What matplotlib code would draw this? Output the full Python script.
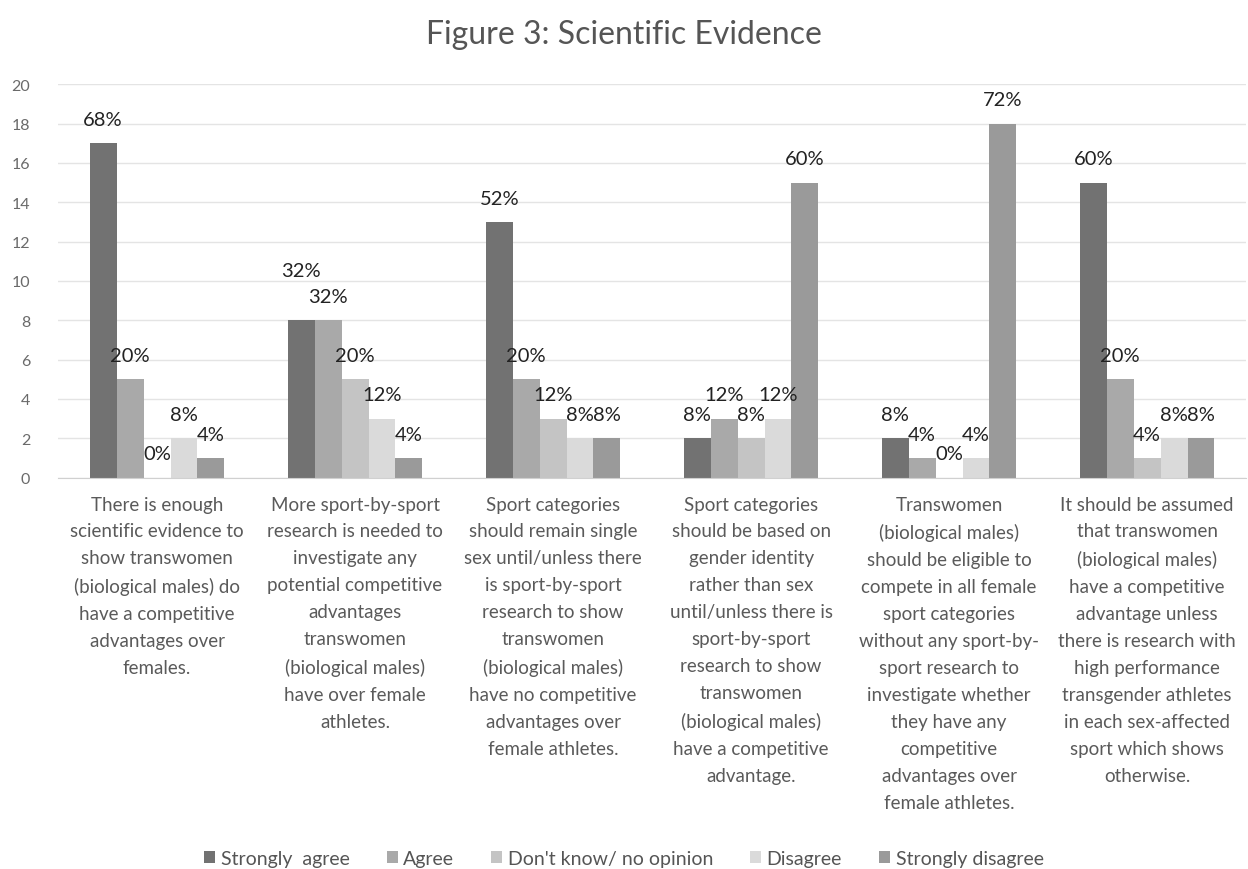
import numpy as np
import matplotlib.pyplot as plt

plt.rcParams['font.family'] = ['Lato', 'DejaVu Sans']

# ---------------- data ----------------
categories = [
    "There is enough\nscientific evidence to\nshow transwomen\n(biological males) do\nhave a competitive\nadvantages over\nfemales.",
    "More sport-by-sport\nresearch is needed to\ninvestigate any\npotential competitive\nadvantages\ntranswomen\n(biological males)\nhave over female\nathletes.",
    "Sport categories\nshould remain single\nsex until/unless there\nis sport-by-sport\nresearch to show\ntranswomen\n(biological males)\nhave no competitive\nadvantages over\nfemale athletes.",
    "Sport categories\nshould be based on\ngender identity\nrather than sex\nuntil/unless there is\nsport-by-sport\nresearch to show\ntranswomen\n(biological males)\nhave a competitive\nadvantage.",
    "Transwomen\n(biological males)\nshould be eligible to\ncompete in all female\nsport categories\nwithout any sport-by-\nsport research to\ninvestigate whether\nthey have any\ncompetitive\nadvantages over\nfemale athletes.",
    "It should be assumed\nthat transwomen\n(biological males)\nhave a competitive\nadvantage unless\nthere is research with\nhigh performance\ntransgender athletes\nin each sex-affected\nsport which shows\notherwise.",
]

series_names = ["Strongly  agree", "Agree", "Don't know/ no opinion", "Disagree", "Strongly disagree"]

strongly_agree = [17, 8, 13, 2, 2, 15]
agree = [5, 8, 5, 3, 1, 5]
dont_know = [0, 5, 3, 2, 0, 1]
disagree = [2, 3, 2, 3, 1, 2]
strongly_disagree = [1, 1, 2, 15, 18, 2]

pct_strongly_agree = ["68%", "32%", "52%", "8%", "8%", "60%"]
pct_agree = ["20%", "32%", "20%", "12%", "4%", "20%"]
pct_dont_know = ["0%", "20%", "12%", "8%", "0%", "4%"]
pct_disagree = ["8%", "12%", "8%", "12%", "4%", "8%"]
pct_strongly_disagree = ["4%", "4%", "8%", "60%", "72%", "8%"]

colors = ["#727272", "#a9a9a9", "#c4c4c4", "#dadada", "#9a9a9a"]

# ---------------- plot ----------------
fig = plt.figure(figsize=(12.48, 8.7), dpi=100)
ax = fig.add_axes([0.0465, 0.45, 0.952, 0.452])

series = [strongly_agree, agree, dont_know, disagree, strongly_disagree]
labels = [pct_strongly_agree, pct_agree, pct_dont_know, pct_disagree, pct_strongly_disagree]

x = np.arange(len(categories))
w = 0.136
for i, (vals, lab) in enumerate(zip(series, labels)):
    pos = x + (i - 2) * w
    ax.bar(pos, vals, width=w, color=colors[i], label=series_names[i], zorder=2)
    for j, (p, v, t) in enumerate(zip(pos, vals, lab)):
        off = 11
        # wide labels that would collide with the neighbour's label get lifted
        if i < len(series) - 1 and series[i + 1][j] == v and len(t) > 2:
            off = 30
        ax.annotate(t, (p, v), xytext=(0, off), textcoords="offset points",
                    ha="center", va="bottom", fontsize=14.5, color="#222222")

ax.set_xlim(-0.5, len(categories) - 0.5)
ax.set_ylim(0, 20)
ax.set_yticks(range(0, 21, 2))
ax.tick_params(axis="y", length=0, labelsize=11.5, labelcolor="#6a6a6a", pad=20)
ax.set_xticks(x)
ax.set_xticklabels(categories, fontsize=13.5, color="#5a5a5a", linespacing=1.71, va="top")
ax.tick_params(axis="x", length=0, pad=13)
ax.grid(axis="y", color="#e4e4e4", linewidth=1, zorder=0)
for s in ["top", "right", "left"]:
    ax.spines[s].set_visible(False)
ax.spines["bottom"].set_color("#d0d0d0")

fig.suptitle("Figure 3: Scientific Evidence", y=0.977, fontsize=23, color="#555555")

fig.legend(loc="lower center", bbox_to_anchor=(0.5, -0.018), ncol=5, frameon=False,
           fontsize=14, labelcolor="#555555", handlelength=0.55, handleheight=0.55,
           handletextpad=0.3, columnspacing=1.9)

plt.savefig("out.png", dpi=100)
